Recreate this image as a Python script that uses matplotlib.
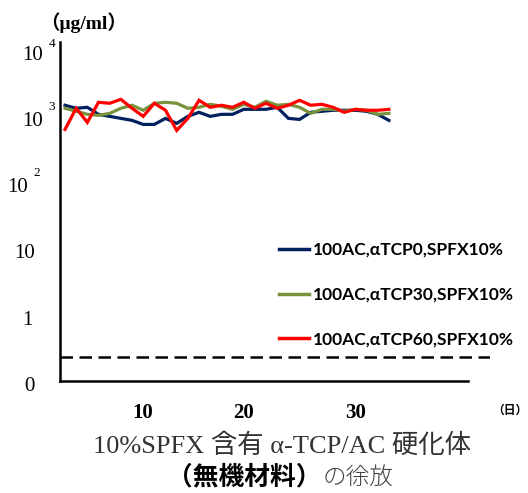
import numpy as np
import matplotlib.pyplot as plt
from matplotlib import transforms

# measurement points (sequential sampling index)
points = list(range(1, 31))

# release concentration (ug/ml)
tcp0 = [1750, 1575, 1630, 1277, 1190, 1110, 1035, 900, 900, 1110,
        933, 1190, 1370, 1190, 1277, 1277, 1520, 1520, 1520, 1630,
        1110, 1070, 1370, 1420, 1470, 1470, 1470, 1420, 1277, 1035]
tcp30 = [1575, 1420, 1277, 1233, 1320, 1575, 1750, 1470, 1875, 1940,
         1875, 1575, 1630, 1810, 1690, 1520, 1810, 1630, 2010, 1750,
         1810, 1630, 1320, 1520, 1520, 1420, 1520, 1470, 1277, 1320]
tcp60 = [757, 1575, 966, 1940, 1875, 2150, 1575, 1190, 1875, 1470,
         730, 1110, 2080, 1630, 1750, 1630, 1940, 1575, 1875, 1575,
         1750, 2080, 1750, 1810, 1630, 1370, 1520, 1470, 1470, 1520]

labels = ['100AC,αTCP0,SPFX10%', '100AC,αTCP30,SPFX10%', '100AC,αTCP60,SPFX10%']
colors = ['#002060', '#77933C', '#FF0000']

detect_limit = 0.28

ytick_vals = [0.1, 1, 10, 100, 1000, 10000]
ytick_txt = ['0', '1', '10', '10', '10', '10']
ytick_exp = ['', '', '', '2', '3', '4']
xtick_pos = [8, 17, 27]
xtick_txt = ['10', '20', '30']

fig = plt.figure(figsize=(5.28, 4.93), dpi=100)
ax = fig.add_axes([0.1136, 0.2272, 0.8144, 0.6876])

for y, lab, c in zip([tcp0, tcp30, tcp60], labels, colors):
    ax.plot(points, y, color=c, lw=2.3, label=lab, solid_joinstyle='miter')

ax.axhline(detect_limit, color='black', lw=1.8, ls=(0, (5, 2.6)))

ax.set_yscale('log')
ax.set_ylim(0.1215, 15740)
ax.set_xlim(0.55, 39.05)

for s in ['top', 'right']:
    ax.spines[s].set_visible(False)
ax.spines['left'].set_linewidth(1.8)
ax.spines['bottom'].set_linewidth(1.8)
ax.spines['bottom'].set_bounds(0.55, 37.1)

ax.set_xticks([])
ax.set_yticks([])
ax.minorticks_off()

# y labels drawn by hand (0 sits below the log range)
trans = transforms.blended_transform_factory(fig.transFigure, ax.transData)
lab_x = [29, 27, 25, 18, 33, 33]
exp_up = [0, 0, 0, 0.22, 0.22, 0.17]
for v, t, e, px, up in zip(ytick_vals, ytick_txt, ytick_exp, lab_x, exp_up):
    ax.text(px / 528, v, t, transform=trans, ha='center', va='center',
            fontsize=15, family='Liberation Serif', clip_on=False)
    if e:
        ax.text((px + 19) / 528, v * 10 ** up, e, transform=trans, ha='center',
                va='center', fontsize=9.5, family='Liberation Serif', clip_on=False)

trans_x = transforms.blended_transform_factory(ax.transData, fig.transFigure)
for p, t in zip(xtick_pos, xtick_txt):
    ax.text(p, 1 - 413 / 493, t, transform=trans_x, ha='center', va='center',
            fontsize=15, family='Liberation Serif', fontweight='bold')

fig.text(510 / 528, 1 - 410 / 493, '（日）', ha='center', va='center', fontsize=8.5,
         family=['Noto Sans CJK JP'], fontweight='bold')
fig.text(40 / 528, 1 - 23 / 493, '（μg/ml）', ha='left', va='center', fontsize=14,
         family=['Liberation Serif', 'Noto Sans CJK JP'], fontweight='bold')

leg = ax.legend(loc='upper left', bbox_to_anchor=(279 / 528, 1 - 242 / 493),
                bbox_transform=fig.transFigure, frameon=False,
                prop={'family': ['Lato', 'DejaVu Sans'], 'weight': 'bold', 'size': 12.5},
                handlelength=1.75, handletextpad=0.2, labelspacing=1.65,
                borderpad=0, borderaxespad=0)
for h in leg.get_lines():
    h.set_linewidth(2.5)

fig.text(282 / 528, 1 - 446 / 493, '10%SPFX 含有 α-TCP/AC 硬化体', ha='center', va='center',
         fontsize=19, color='#333333', family=['Liberation Serif', 'Noto Sans CJK JP'])
fig.text(321 / 528, 1 - 477 / 493, '（無機材料）', ha='right', va='center',
         fontsize=18.5, color='black', family=['Noto Sans CJK JP'], fontweight='bold')
fig.text(323 / 528, 1 - 477 / 493, 'の徐放', ha='left', va='center',
         fontsize=17, color='#444444', family=['Noto Sans CJK JP'], fontweight='light')

fig.savefig('out.png', dpi=100)
